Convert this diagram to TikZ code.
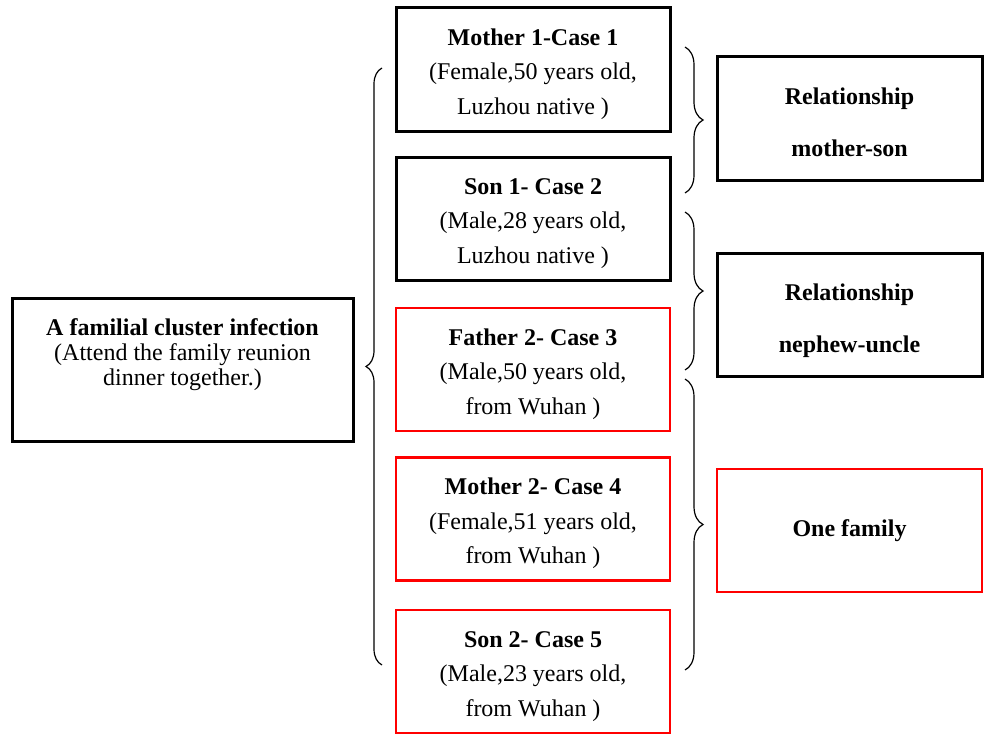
\documentclass[tikz,border=0pt]{standalone}
\usepackage{fontspec}
\setmainfont{Liberation Serif}
\usepackage{tikz}
\usetikzlibrary{positioning, decorations.pathreplacing}
\definecolor{caseRed}{HTML}{FF0000}
\newcommand{\topstrut}[1]{\rule{0pt}{#1}}

\begin{document}
\begin{tikzpicture}[
  x=0.5pt, y=-0.5pt,
  font=\fontsize{12}{17.25}\selectfont,
  casebox/.style={draw=black, line width=1.5pt,
                  minimum width=137pt, minimum height=61.5pt,
                  inner sep=0pt, align=center},
  casered/.style={casebox, draw=caseRed, line width=1.3pt},
  relbox/.style={draw=black, line width=1.5pt,
                 minimum width=132.5pt, minimum height=61.5pt,
                 inner sep=0pt, align=center,
                 font=\fontsize{12}{26}\selectfont\bfseries},
  brc/.style={decorate, decoration={brace, amplitude=#1}, line width=0.6pt},
  brc/.default=9pt
]
  \useasboundingbox (0,0) rectangle (984,733);

  % cluster on the left
  \node[casebox, minimum width=170.5pt, minimum height=71.5pt,
        font=\fontsize{12}{12.5}\selectfont] (cluster) at (182.5,369.5)
    {\textbf{A familial cluster infection}\\(Attend the family reunion\\dinner together.)\rule[-17.5pt]{0pt}{1pt}};

  % the five cases
  \node[casebox] (case1) at (533,69.5)
    {\topstrut{13pt}\textbf{Mother 1-Case 1}\\(Female,50 years old,\\Luzhou native )};
  \node[casebox, below=11.5pt of case1] (case2)
    {\topstrut{13pt}\textbf{Son 1- Case 2}\\(Male,28 years old,\\Luzhou native )};
  \node[casered, below=12.5pt of case2] (case3)
    {\topstrut{13pt}\textbf{Father 2- Case 3}\\(Male,50 years old,\\from Wuhan )};
  \node[casered, below=12pt of case3] (case4)
    {\topstrut{13pt}\textbf{Mother 2- Case 4}\\(Female,51 years old,\\from Wuhan )};
  \node[casered, below=13.5pt of case4] (case5)
    {\topstrut{13pt}\textbf{Son 2- Case 5}\\(Male,23 years old,\\from Wuhan )};

  % relationships
  \node[relbox] (rel1) at (849.5,118.5) {\topstrut{12.5pt}Relationship\\mother-son};
  \node[relbox] (rel2) at (849.5,315) {\topstrut{14pt}Relationship\\nephew-uncle};
  \node[relbox, draw=caseRed, line width=1.3pt] (fam) at (849.5,530.5) {One family};

  % brace ends
  \coordinate (lbTop) at (382,68);
  \coordinate (lbBot) at (382,665);
  \coordinate (b1Top) at (685,47);
  \coordinate (b1Bot) at (685,193);
  \coordinate (b2Top) at (685,212);
  \coordinate (b2Bot) at (685,370);
  \coordinate (b3Top) at (685,379);
  \coordinate (b3Bot) at (685,670);

  \draw[brc=8pt] (lbBot) -- (lbTop);
  \draw[brc] (b1Top) -- (b1Bot);
  \draw[brc] (b2Top) -- (b2Bot);
  \draw[brc] (b3Top) -- (b3Bot);
\end{tikzpicture}
\end{document}
